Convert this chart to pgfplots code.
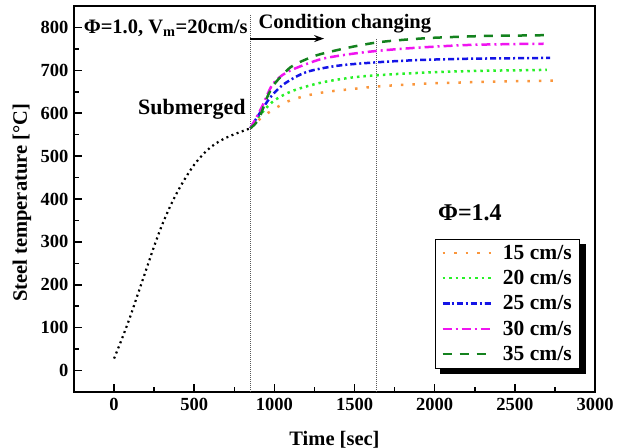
\documentclass[border=0pt]{standalone}
\usepackage{pgfplots}
\pgfplotsset{compat=1.18}
\usepackage{fontspec}
\setmainfont{Liberation Serif}
\usetikzlibrary{arrows.meta}

\definecolor{cOrange}{RGB}{250,150,60}
\definecolor{cLime}{RGB}{40,240,40}
\definecolor{cBlue}{RGB}{20,20,230}
\definecolor{cMag}{RGB}{240,20,240}
\definecolor{cDGreen}{RGB}{20,130,30}

\begin{document}
\begin{tikzpicture}
\begin{axis}[
  scale only axis,
  width=521pt, height=386pt,
  xmin=-250, xmax=3000, ymin=-50, ymax=850,
  xtick={0,500,...,3000}, ytick={0,100,...,800},
  minor x tick num=1, minor y tick num=1,
  xtick pos=bottom, ytick pos=left,
  tick align=inside,
  major tick length=8pt, minor tick length=5pt,
  every tick/.style={line width=1.5pt, black},
  axis line style={line width=1.6pt},
  /pgf/number format/assume math mode=true,
  /pgf/number format/set thousands separator={},
  ticklabel style={font=\fontsize{18.5}{20}\selectfont\bfseries},
  xticklabel style={yshift=-3pt},
  yticklabel style={xshift=-2pt},
  xlabel={Time [sec]}, ylabel={Steel temperature [°C]},
  label style={font=\fontsize{20.5}{22}\selectfont\bfseries},
  xlabel style={at={([yshift=-53pt]axis description cs:0.5,0)}, anchor=base},
  ylabel style={at={([xshift=-47pt]axis description cs:0,0.49)}, anchor=base},
  clip=false,
  legend cell align=left,
  legend style={name=leg, at={(0.693,0.397)}, anchor=north west,
    draw=black, line width=0.8pt, fill=white,
    font=\fontsize{21.5}{23}\selectfont\bfseries,
    column sep=9pt, row sep=5.5pt, inner xsep=6pt, inner ysep=4pt},
  legend image code/.code={\draw[#1] plot coordinates {(0pt,0pt) (24pt,0pt) (48pt,0pt)};},
]

% reference lines marking the switch to submerged operation
\addplot[forget plot, gray!70!black, line width=1pt, dash pattern=on 1pt off 1pt]
  coordinates {(850,-50) (850,828)};
\addplot[forget plot, gray!70!black, line width=1pt, dash pattern=on 1pt off 1pt]
  coordinates {(1640,-50) (1640,774)};

% heating before submersion
\addplot[forget plot, black, line width=2.2pt, dash pattern=on 2pt off 3.5pt, smooth]
  coordinates {(0,28) (50,75) (100,125) (150,180) (200,235) (250,290) (300,340)
   (350,383) (400,420) (450,452) (500,480) (550,502) (600,520) (650,533)
   (700,543) (750,551) (800,558) (850,565)};

\addplot[cOrange, line width=2.5pt, dash pattern=on 2.5pt off 9pt, smooth]
  coordinates {(850,565) (920,590) (1000,610) (1080,627) (1160,637) (1250,645)
   (1350,651) (1475,656) (1600,661) (1700,664) (1850,667) (2000,670)
   (2200,672) (2400,674) (2600,675) (2750,676)};
\addlegendentry{15 cm/s}

\addplot[cLime, line width=2.5pt, dash pattern=on 2.5pt off 4pt, smooth]
  coordinates {(850,565) (920,600) (1000,630) (1120,653) (1300,672) (1500,684)
   (1700,690) (1900,694) (2100,697) (2300,699) (2500,700) (2700,701)};
\addlegendentry{20 cm/s}

\addplot[cBlue, line width=2.5pt, dash pattern=on 6pt off 3pt on 2pt off 3pt, smooth]
  coordinates {(850,565) (900,595) (975,637) (1060,668) (1200,696) (1400,711)
   (1650,719) (1900,724) (2200,727) (2450,728) (2720,729)};
\addlegendentry{25 cm/s}

\addplot[cMag, line width=2.5pt, dash pattern=on 9pt off 4pt on 2pt off 4pt, smooth]
  coordinates {(850,565) (885,588) (930,621) (985,665) (1050,689) (1120,703)
   (1290,726) (1475,738) (1660,746) (1900,753) (2200,759) (2450,761) (2680,762)};
\addlegendentry{30 cm/s}

\addplot[cDGreen, line width=2.5pt, dash pattern=on 9pt off 8pt, smooth]
  coordinates {(850,565) (880,575) (910,592) (950,633) (1000,668) (1100,707)
   (1200,726) (1290,738) (1475,754) (1640,765) (1800,771) (2000,776)
   (2300,780) (2500,781) (2700,782)};
\addlegendentry{35 cm/s}

% annotations
\node[anchor=west, font=\fontsize{20.5}{22}\selectfont\bfseries, inner sep=0pt]
  at (axis cs:-190,798) {Φ=1.0, V\textsubscript{m}=20cm/s};
\node[anchor=west, font=\fontsize{20.5}{22}\selectfont\bfseries, inner sep=0pt]
  at (axis cs:900,808) {Condition changing};
\draw[-{Stealth[length=10pt,width=7pt]}, line width=2pt]
  (axis cs:850,774) -- (axis cs:1310,774);
\node[anchor=east, font=\fontsize{22}{24}\selectfont\bfseries, inner sep=0pt]
  at (axis cs:822,608) {Submerged};
\node[anchor=west, font=\fontsize{24}{26}\selectfont\bfseries, inner sep=0pt]
  at (axis cs:2020,368) {Φ=1.4};
\end{axis}
% solid shadow along the right and lower edges of the legend box
\fill[black] ([xshift=0.4pt,yshift=-5pt]leg.north east)
  rectangle ([xshift=6pt,yshift=-6pt]leg.south east);
\fill[black] ([xshift=5pt,yshift=-0.4pt]leg.south west)
  rectangle ([xshift=6pt,yshift=-6pt]leg.south east);
% fixed page frame around the axis box
\pgfresetboundingbox
\path[use as bounding box] ([xshift=-74pt,yshift=-56pt]current axis.south west)
  rectangle ([xshift=22pt,yshift=6pt]current axis.north east);
\end{tikzpicture}
\end{document}
